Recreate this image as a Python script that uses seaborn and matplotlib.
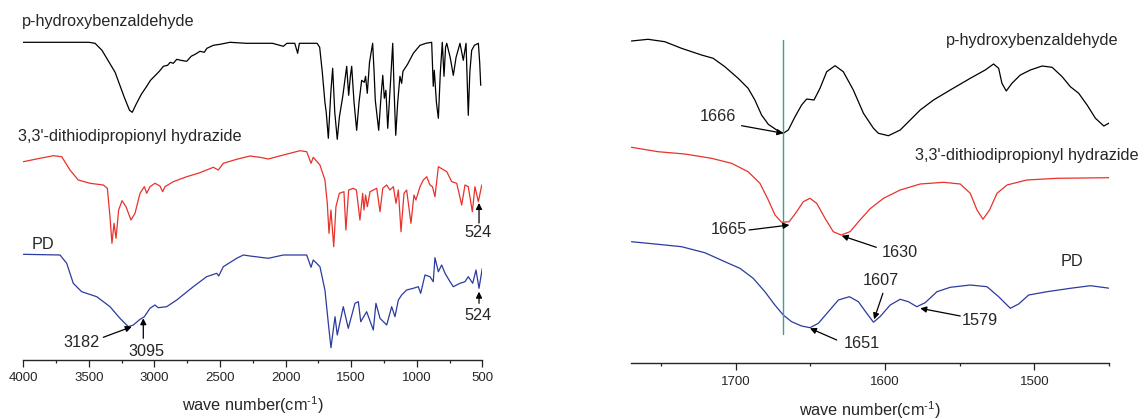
import numpy as np
import pandas as pd
import seaborn as sns
import matplotlib
matplotlib.use("Agg")
import matplotlib.pyplot as plt
from matplotlib.ticker import MultipleLocator

# ---------------- data (relative transmittance, a.u.) ----------------
# full range spectra (left panel)
full_pha_wn = [4000, 3700, 3500, 3453, 3400, 3300, 3230, 3190, 3169, 3140, 3100, 3059, 3030, 3000,
               2970, 2950, 2932, 2900, 2880, 2856, 2830, 2800, 2754, 2720, 2690, 2653, 2620, 2600,
               2551, 2500, 2424, 2300, 2195, 2100, 2017, 1990, 1930, 1908, 1895, 1800, 1760, 1740,
               1720, 1700, 1690, 1674, 1655, 1641, 1625, 1606, 1590, 1564, 1545, 1534, 1519, 1506,
               1496, 1478, 1458, 1440, 1420, 1400, 1390, 1377, 1360, 1336, 1325, 1316, 1290, 1270,
               1259, 1247, 1235, 1221, 1200, 1183, 1172, 1160, 1145, 1128, 1115, 1105, 1070, 1026,
               975, 930, 886, 874, 866, 850, 835, 820, 805, 792, 780, 771, 745, 721, 700, 670, 645,
               624, 607, 595, 581, 560, 530, 520, 512]
full_pha_t = [0, 0, 0, -1, -8, -30, -55, -68, -70, -62, -52, -44, -38, -34,
              -30, -27, -24, -23, -20, -21, -17, -18, -19, -14, -12, -9, -10, -6,
              -3, -2, 0, -1, -1, -1, -4, -1, -1, -11, -1, -1, -1, -5,
              -30, -60, -70, -96, -50, -26, -70, -97, -75, -54, -35, -24, -53, -34,
              -24, -60, -88, -60, -38, -40, -34, -51, -20, -1, -30, -58, -88, -50,
              -33, -56, -48, -86, -40, -1, -50, -93, -60, -34, -41, -29, -22, -11,
              -3, -1, 0, -44, -28, -60, -76, -30, 0, -34, -5, -1, -15, -33, -15, -1, -18,
              -1, -73, -30, -8, -3, -1, -20, -43]

full_dth_wn = [4000, 3873, 3771, 3707, 3644, 3581, 3491, 3390, 3359, 3339, 3324, 3308, 3293, 3273,
               3247, 3217, 3179, 3148, 3110, 3077, 3059, 3034, 2996, 2958, 2937, 2920, 2856, 2754,
               2653, 2551, 2513, 2475, 2373, 2271, 2195, 2132, 2017, 1890, 1839, 1806, 1789, 1738,
               1700, 1682, 1669, 1654, 1633, 1616, 1590, 1555, 1540, 1519, 1484, 1460, 1433, 1412,
               1402, 1390, 1377, 1356, 1305, 1280, 1259, 1229, 1205, 1178, 1158, 1140, 1120, 1097,
               1077, 1044, 1021, 1006, 975, 950, 924, 899, 880, 861, 835, 771, 733, 695, 657, 632,
               607, 576, 556, 530, 504]
full_dth_t = [-5.7, -2.3, 0.3, -0.7, -14, -24, -27.3, -29, -32.3, -60.7, -87.3, -67.3, -82.3, -54,
              -44.7, -50.7, -64, -57.3, -37.3, -30.7, -37.3, -30.7, -27.3, -30, -35.7, -30.7, -25.7, -20.7,
              -16.7, -11.3, -14, -7.3, -3.3, 0, -1.3, -3, 1, 5.3, 4.3, -7.3, -1.3, -9,
              -24, -47.3, -77.3, -54, -90.7, -50.7, -37.3, -35.7, -74, -34, -32.3, -34, -64, -37.3,
              -54, -39, -50.7, -35.7, -32.3, -55.7, -32.3, -29, -34, -30.7, -47.3, -34, -75.7, -37.3,
              -34, -67.3, -39, -44, -30.7, -24, -20.7, -29, -30.7, -40.7, -10.7, -15.7, -25.7, -27.3, -49, -29,
              -30.7, -55.7, -30.7, -45.7, -29]

full_pd_wn = [4000, 3720, 3669, 3619, 3555, 3440, 3339, 3263, 3199, 3161, 3110, 3077, 3034, 2996,
              2971, 2907, 2830, 2704, 2602, 2525, 2510, 2475, 2373, 2322, 2271, 2132, 2017, 1839,
              1806, 1789, 1738, 1700, 1674, 1654, 1623, 1606, 1560, 1522, 1471, 1445, 1427, 1382,
              1331, 1311, 1280, 1229, 1191, 1166, 1140, 1115, 1077, 1026, 988, 970, 937, 899, 874,
              861, 835, 810, 784, 746, 721, 670, 632, 607, 573, 548, 525, 500]
full_pd_t = [0.7, 0, -8.3, -28.3, -36.7, -41.7, -51.7, -63.3, -71.7, -70, -64.3, -61.7, -53.3, -50,
             -52.7, -51.7, -45, -31.7, -21.7, -18.3, -21, -11.7, -3.3, 0, -1, -3.3, 0, 0,
             -12.3, -5, -11.7, -35, -68.3, -92.7, -61.7, -80, -51.7, -73.3, -48.3, -46.7, -66.7, -56.7,
             -75, -48.3, -63.3, -70, -51.7, -61.7, -45, -40, -35, -33.3, -31.7, -38.3, -20, -21.7, -26.7,
             -2.7, -16.7, -10, -18.3, -26.7, -31.7, -28.3, -26.7, -21.7, -28.3, -15, -33.3, -13.3]

# expanded 1770-1450 region (right panel)
zoom_pha_wn = [1769.7, 1758.6, 1747.4, 1736.2, 1722.8, 1715, 1707.2, 1698.3, 1691.6, 1687.1, 1682.6,
               1678.1, 1672.5, 1668.1, 1664.7, 1660.2, 1655.8, 1652.4, 1647.5, 1643.5, 1639, 1633.4,
               1627.9, 1621.2, 1614.4, 1607.7, 1604.4, 1597.7, 1589.8, 1583.1, 1576.4, 1567.5, 1556.3,
               1542.9, 1532.9, 1527.3, 1523.9, 1521.7, 1518.8, 1515, 1509.4, 1502.7, 1494.8, 1488.1,
               1481.4, 1475.9, 1470.3, 1464.7, 1459.1, 1453.5, 1449.5]
zoom_pha_t = [-0.3, 1.4, -1, -7.6, -14.3, -17.6, -26, -37.6, -47.6, -59.3, -74.3,
              -83.6, -89.3, -92.6, -89.3, -76, -64.3, -58.3, -59.3, -47.6, -31, -25,
              -31, -49.3, -72.6, -87.6, -92.6, -95, -89.3, -79.3, -69.3, -59.3, -49.3,
              -37.6, -29.3, -23.3, -27.6, -42.6, -50.3, -42.6, -34.3, -29.3, -25.3, -26.6,
              -36, -46, -52.6, -64.3, -77.6, -85.3, -82]

zoom_dth_wn = [1769.7, 1751.9, 1734, 1716.1, 1702.7, 1691.6, 1683.7, 1678.1, 1673.6, 1669.2, 1664.1,
               1659.1, 1654.7, 1650.2, 1645.7, 1640.1, 1634.6, 1629.4, 1623.4, 1616.7, 1610, 1601,
               1589.8, 1576.4, 1560.8, 1549.6, 1542.9, 1538.4, 1534.4, 1530, 1525, 1518.3, 1505.1,
               1484.8, 1449.5]
zoom_dth_t = [0, -4.4, -6.7, -11, -16, -24.4, -36, -52.7, -67.7, -75, -74.4,
              -64.4, -54.4, -51, -56, -71, -84.4, -87.7, -84.4, -72.7, -61.5, -51,
              -42.7, -36.7, -35, -36.7, -46, -62.7, -72, -62.7, -46, -37.7, -32.7,
              -31, -30.4]

zoom_pd_wn = [1769.7, 1751.9, 1736.2, 1720.6, 1707.2, 1697.1, 1688.2, 1680.4, 1673.7, 1668.1, 1662.5,
              1655.8, 1650.2, 1644.6, 1637.9, 1631.2, 1623.8, 1617.8, 1612.2, 1607.7, 1603.3, 1596.5,
              1589.8, 1584.3, 1578.7, 1573.1, 1565.2, 1556.3, 1542.9, 1531.7, 1523.9, 1516.1, 1510.5,
              1503.8, 1491.5, 1475.9, 1462.4, 1449.5]
zoom_pd_t = [0, -2.6, -5, -11, -20, -26.6, -36.6, -50, -63.3, -73.3, -80,
             -84.3, -86, -81.6, -70, -58.3, -55, -60, -71.6, -80.5, -75, -63.3,
             -57.6, -60, -65, -61, -50, -45.6, -43.3, -45, -55, -66.6, -62.3,
             -53.3, -50, -46.6, -44, -46.6]

names = ["p-hydroxybenzaldehyde", "3,3'-dithiodipropionyl hydrazide", "PD"]
colors = ["#000000", "#e8322b", "#2b3b9e"]

# ---------------- style ----------------
sns.set_style("ticks")
plt.rcParams["font.family"] = ["Liberation Sans", "DejaVu Sans"]
plt.rcParams["mathtext.fontset"] = "custom"
plt.rcParams["mathtext.rm"] = "Liberation Sans"
plt.rcParams["mathtext.it"] = "Liberation Sans:italic"

fig = plt.figure(figsize=(11.45, 4.19), dpi=100)
axL = fig.add_axes([0.02035, 0.14081, 0.40087, 0.85919])
axR = fig.add_axes([0.5511, 0.13365, 0.4175, 0.86635])

left_off = [317.7, 204, 105]
right_off = [322.3, 215.7, 121.3]

full = [(full_pha_wn, full_pha_t), (full_dth_wn, full_dth_t), (full_pd_wn, full_pd_t)]
zoom = [(zoom_pha_wn, zoom_pha_t), (zoom_dth_wn, zoom_dth_t), (zoom_pd_wn, zoom_pd_t)]

for (wn, t), off, c in zip(full, left_off, colors):
    df = pd.DataFrame({"wn": wn, "t": np.array(t) + off})
    sns.lineplot(data=df, x="wn", y="t", ax=axL, color=c, lw=0.9, sort=False, estimator=None)
for (wn, t), off, c in zip(zoom, right_off, colors):
    df = pd.DataFrame({"wn": wn, "t": np.array(t) + off})
    sns.lineplot(data=df, x="wn", y="t", ax=axR, color=c, lw=0.9, sort=False, estimator=None)

axL.set_xlim(4000, 500)
axL.set_ylim(0, 360)
axR.set_xlim(1770, 1450)
axR.set_ylim(0, 363)

for ax in (axL, axR):
    sns.despine(ax=ax, left=True)
    ax.set_yticks([])
    ax.set_ylabel("")
    ax.spines["bottom"].set_linewidth(1.0)
    ax.tick_params(axis="x", which="major", length=5, width=0.9, labelsize=9.5, color="#222222")
    ax.tick_params(axis="x", which="minor", length=2.5, width=0.9, color="#222222")
    ax.set_xlabel(r"wave number(cm$^{\text{-}1}$)", fontsize=11.7)

axL.xaxis.set_major_locator(MultipleLocator(500))
axL.xaxis.set_minor_locator(MultipleLocator(250))
axL.tick_params(axis="x", which="major", pad=3.4)
axR.xaxis.set_major_locator(MultipleLocator(100))
axR.xaxis.set_minor_locator(MultipleLocator(50))
axR.tick_params(axis="x", which="major", pad=4.5)
axL.xaxis.set_label_coords(0.5, -0.095)
axR.xaxis.set_label_coords(0.5, -0.10)

fs = 11.7
arrow = dict(arrowstyle="-|>", color="black", lw=0.9, mutation_scale=9, shrinkA=0, shrinkB=0)

# left panel labels
axL.text(4012, 339, names[0], fontsize=fs, ha="left", va="center")
axL.text(4038, 223.3, names[1], fontsize=fs, ha="left", va="center")
axL.text(3936, 115.7, names[2], fontsize=fs, ha="left", va="center")
axL.annotate("", xy=(3173, 33.3), xytext=(3390, 22.7), arrowprops=arrow)
axL.text(3555, 17.3, "3182", fontsize=fs, ha="center", va="center")
axL.annotate("", xy=(3085, 41.7), xytext=(3085, 21.7), arrowprops=arrow)
axL.text(3064, 9, "3095", fontsize=fs, ha="center", va="center")
axL.annotate("", xy=(525, 157), xytext=(525, 137), arrowprops=arrow)
axL.text(533, 127.3, "524", fontsize=fs, ha="center", va="center")
axL.annotate("", xy=(525, 68.3), xytext=(525, 56.7), arrowprops=arrow)
axL.text(533, 45, "524", fontsize=fs, ha="center", va="center")

# right panel labels
axR.text(1559, 322.3, names[0], fontsize=fs, ha="left", va="center")
axR.text(1580, 208, names[1], fontsize=fs, ha="left", va="center")
axR.text(1482.6, 101.3, names[2], fontsize=fs, ha="left", va="center")
axR.plot([1668, 1668], [29, 323], color="#3a9f9f", lw=1.0)

peaks = [("1666", (1711.7, 246.3), (1696, 237.3), (1668, 229.7)),
         ("1665", (1704.5, 134), (1691, 133), (1664, 138)),
         ("1630", (1589.8, 110.7), (1605.8, 115.7), (1629, 127.3)),
         ("1607", (1602.8, 83), (1601.4, 69.7), (1607.3, 43.7)),
         ("1579", (1536.2, 42.3), (1549.6, 47), (1576.4, 54.7)),
         ("1651", (1615.8, 19.7), (1632.3, 23), (1650.2, 34.7))]
for lab, txt, tail, head in peaks:
    axR.annotate("", xy=head, xytext=tail, arrowprops=arrow)
    axR.text(txt[0], txt[1], lab, fontsize=fs, ha="center", va="center")

fig.savefig("out.png", dpi=100)
